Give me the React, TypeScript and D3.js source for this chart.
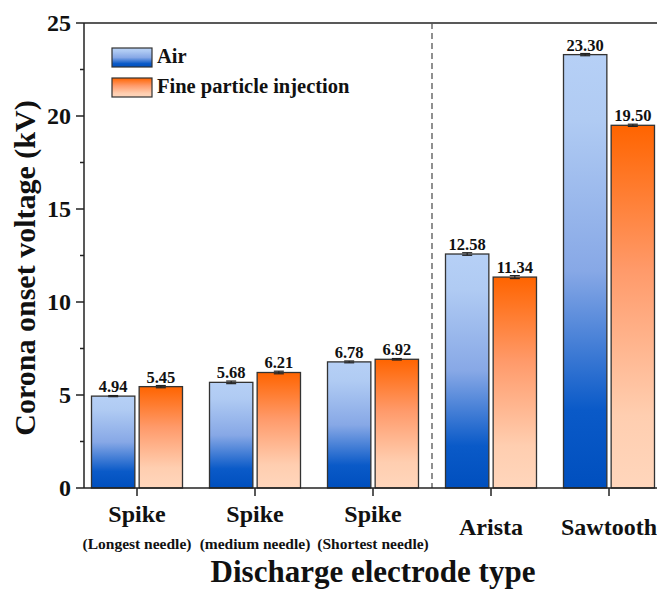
import React from "react";
import * as d3 from "d3";

const categories = ["Spike", "Spike", "Spike", "Arista", "Sawtooth"];
const subLabels = ["(Longest needle)", "(medium needle)", "(Shortest needle)", "", ""];
const series = ["Air", "Fine particle injection"];
const airValues = [4.94, 5.68, 6.78, 12.58, 23.3];
const fineValues = [5.45, 6.21, 6.92, 11.34, 19.5];
const airErr = [0.03, 0.07, 0.05, 0.07, 0.06];
const fineErr = [0.06, 0.07, 0.04, 0.08, 0.06];
const yTicks = [0, 5, 10, 15, 20, 25];
const yMinor = [2.5, 7.5, 12.5, 17.5, 22.5];

const W = 657, H = 593;
const M = { left: 84, top: 23, bottom: 488 };
const FONT = "Liberation Serif, Times New Roman, DejaVu Serif, serif";

export default function App() {
  const y = d3.scaleLinear().domain([0, 25]).range([M.bottom, M.top]);
  const x = d3.scaleBand<number>().domain(d3.range(categories.length)).range([78, 668]).paddingInner(0).paddingOuter(0);
  const sub = d3.scaleBand<number>().domain([0, 1]).range([-45.5, 45.5]).paddingInner(0.09);
  const center = (i: number) => (x(i) as number) + x.bandwidth() / 2;
  const bw = sub.bandwidth();
  const allVals = [airValues, fineValues];
  const allErr = [airErr, fineErr];
  const fills = ["url(#gAir)", "url(#gFine)"];
  const dashX = (center(2) + center(3)) / 2;

  return (
    <svg width={W} height={H} style={{ position: "absolute", left: 0, top: 0, background: "#fff", fontFamily: FONT }}>
      <defs>
        <linearGradient id="gAir" x1="0" y1="0" x2="0" y2="1">
          <stop offset="0" stopColor="#b6d0f6" />
          <stop offset="0.15" stopColor="#b0cbf3" />
          <stop offset="0.5" stopColor="#87a8e6" />
          <stop offset="0.82" stopColor="#0a5ac8" />
          <stop offset="1" stopColor="#004fbe" />
        </linearGradient>
        <linearGradient id="gFine" x1="0" y1="0" x2="0" y2="1">
          <stop offset="0" stopColor="#ff6400" />
          <stop offset="0.4" stopColor="#ff9a6a" />
          <stop offset="0.8" stopColor="#ffceb0" />
          <stop offset="1" stopColor="#ffd6bc" />
        </linearGradient>
      </defs>

      {/* frame */}
      <line x1={M.left} x2={W} y1={M.top} y2={M.top} stroke="#222" strokeWidth={1.5} />
      <line x1={M.left} x2={M.left} y1={M.top} y2={M.bottom} stroke="#222" strokeWidth={1.5} />

      {/* dashed separator */}
      <line x1={dashX} x2={dashX} y1={M.top} y2={M.bottom} stroke="#555" strokeWidth={1.3} strokeDasharray="6,4" />

      {/* bars */}
      {categories.map((c, i) => (
        <g key={i}>
          {allVals.map((vals, s) => {
            const bx = center(i) + (sub(s) as number);
            const v = vals[i];
            const e = allErr[s][i];
            const cx = bx + bw / 2;
            return (
              <g key={s}>
                <rect x={bx} y={y(v)} width={bw} height={y(0) - y(v)} fill={fills[s]} stroke="#333" strokeWidth={1.3} />
                <line x1={cx} x2={cx} y1={y(v + e)} y2={y(v - e)} stroke="#222" strokeWidth={1.2} />
                <line x1={cx - 5} x2={cx + 5} y1={y(v + e)} y2={y(v + e)} stroke="#222" strokeWidth={1.2} />
                <line x1={cx - 5} x2={cx + 5} y1={y(v - e)} y2={y(v - e)} stroke="#222" strokeWidth={1.2} />
                <text x={cx} y={y(v) - 4} textAnchor="middle" fontSize={16.5} fontWeight="bold" fill="#111">{v.toFixed(2)}</text>
              </g>
            );
          })}
        </g>
      ))}

      {/* x axis */}
      <line x1={M.left} x2={W} y1={M.bottom} y2={M.bottom} stroke="#222" strokeWidth={1.5} />
      {categories.map((c, i) => (
        <g key={i}>
          <line x1={center(i)} x2={center(i)} y1={M.bottom} y2={M.bottom + 8} stroke="#222" strokeWidth={1.5} />
          <text x={center(i)} y={subLabels[i] ? 522 : 535} textAnchor="middle" fontSize={24} fontWeight="bold" fill="#111">{c}</text>
          {subLabels[i] && (
            <text x={center(i)} y={549} textAnchor="middle" fontSize={15.5} fontWeight="bold" fill="#111">{subLabels[i]}</text>
          )}
        </g>
      ))}

      {/* y axis */}
      {yTicks.map((t) => (
        <g key={t}>
          <line x1={M.left - 8} x2={M.left} y1={y(t)} y2={y(t)} stroke="#222" strokeWidth={1.5} />
          <text x={71} y={y(t) + 8} textAnchor="end" fontSize={24} fontWeight="bold" fill="#111">{t}</text>
        </g>
      ))}
      {yMinor.map((t) => (
        <line key={t} x1={M.left - 4} x2={M.left} y1={y(t)} y2={y(t)} stroke="#222" strokeWidth={1.5} />
      ))}

      {/* axis titles */}
      <text transform={`translate(35,268) rotate(-90)`} textAnchor="middle" fontSize={30} fontWeight="bold" fill="#111">Corona onset voltage (kV)</text>
      <text x={373} y={582} textAnchor="middle" fontSize={31} fontWeight="bold" fill="#111">Discharge electrode type</text>

      {/* legend */}
      {series.map((s, k) => (
        <g key={s} transform={`translate(112,${48 + k * 30})`}>
          <rect width={40} height={19} fill={fills[k]} stroke="#333" strokeWidth={1.2} />
          <text x={45} y={15} fontSize={20.5} fontWeight="bold" fill="#111">{s}</text>
        </g>
      ))}
    </svg>
  );
}
